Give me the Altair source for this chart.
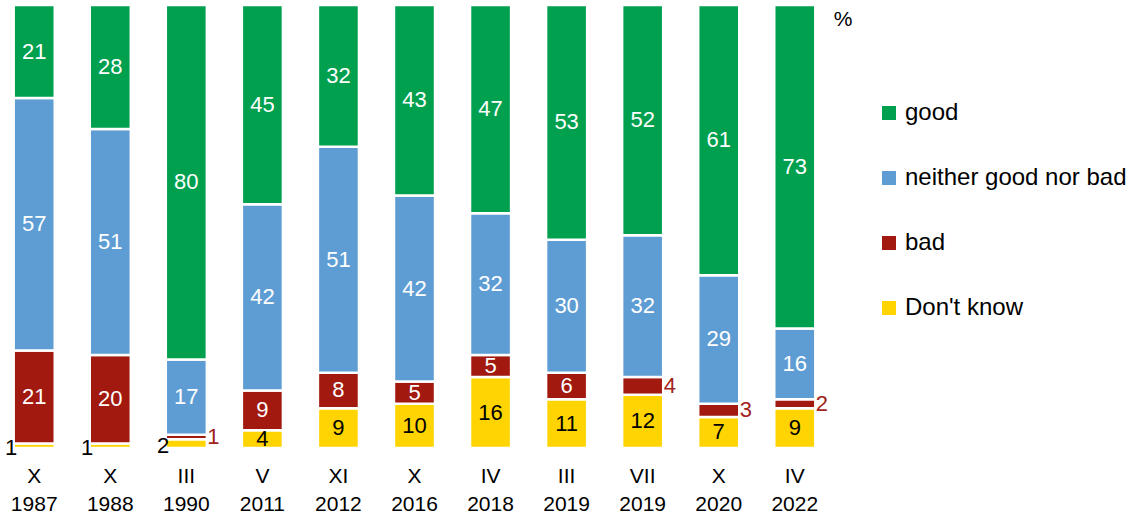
import altair as alt
import pandas as pd

months = ["X", "X", "III", "V", "XI", "X", "IV", "III", "VII", "X", "IV"]
years = ["1987", "1988", "1990", "2011", "2012", "2016", "2018", "2019", "2019", "2020", "2022"]
good = [21, 28, 80, 45, 32, 43, 47, 53, 52, 61, 73]
neither = [57, 51, 17, 42, 51, 42, 32, 30, 32, 29, 16]
bad = [21, 20, 1, 9, 8, 5, 5, 6, 4, 3, 2]
dont_know = [1, 1, 2, 4, 9, 10, 16, 11, 12, 7, 9]
series = ["good", "neither good nor bad", "bad", "Don't know"]
colors = ["#00A04F", "#5E9DD3", "#A2190F", "#FFD400"]

periods = [f"{m} {y}" for m, y in zip(months, years)]
rows = []
for i, p in enumerate(periods):
    for s, vals, order in [("Don't know", dont_know, 0), ("bad", bad, 1),
                           ("neither good nor bad", neither, 2), ("good", good, 3)]:
        v = vals[i]
        if s == "bad" and v <= 4:
            pos = "right"
        elif s == "Don't know" and v <= 2:
            pos = "left"
        else:
            pos = "in"
        rows.append({"period": p, "series": s, "value": v, "ord": order, "pos": pos})
df = pd.DataFrame(rows)

FONT = "Liberation Sans"

x_enc = alt.X("period:N", sort=periods, title=None,
              scale=alt.Scale(paddingInner=0.46, paddingOuter=0.18),
              axis=alt.Axis(labelExpr="split(datum.value, ' ')", labelAngle=0,
                            labelFontSize=21, labelLineHeight=28, labelPadding=17,
                            labelColor="#000000", labelFont=FONT,
                            domain=False, ticks=False, grid=False))
y_scale = alt.Scale(domain=[0, 100])

base = alt.Chart(df)

bars = base.mark_bar(stroke="white", strokeWidth=2.5).encode(
    x=x_enc,
    y=alt.Y("value:Q", stack="zero", scale=y_scale, axis=None),
    order=alt.Order("ord:Q", sort="ascending"),
    color=alt.Color("series:N", scale=alt.Scale(domain=series, range=colors),
                    legend=alt.Legend(orient="none", legendX=877, legendY=96, title=None,
                                      symbolType="square", symbolSize=196,
                                      symbolStrokeWidth=0, labelFontSize=24,
                                      labelFont=FONT, labelColor="#000000", labelLimit=400,
                                      rowPadding=41, labelOffset=4, padding=0)),
)

stacked = base.transform_stack(
    stack="value", as_=["y0", "y1"], groupby=["period"],
    sort=[alt.SortField("ord", order="ascending")]
).transform_calculate(mid="(datum.y0 + datum.y1) / 2")

inside = stacked.transform_filter("datum.pos == 'in'").mark_text(
    fontSize=22, font=FONT, baseline="middle", align="center"
).encode(
    x=alt.X("period:N", sort=periods),
    y=alt.Y("mid:Q", scale=y_scale),
    text="value:Q",
    color=alt.condition("datum.series == \"Don't know\"", alt.value("#000000"), alt.value("#FFFFFF")),
)

left = stacked.transform_filter("datum.pos == 'left'").mark_text(
    fontSize=22, font=FONT, baseline="middle", align="right", dx=-17, dy=2, color="#000000"
).encode(
    x=alt.X("period:N", sort=periods),
    y=alt.Y("mid:Q", scale=y_scale),
    text="value:Q",
)

right = stacked.transform_filter("datum.pos == 'right'").mark_text(
    fontSize=22, font=FONT, baseline="middle", align="left", dx=21, color="#A2231A"
).encode(
    x=alt.X("period:N", sort=periods),
    y=alt.Y("mid:Q", scale=y_scale),
    text="value:Q",
)

pct = alt.Chart(pd.DataFrame({"t": ["%"]})).mark_text(
    fontSize=21, font=FONT, align="center", baseline="middle", color="#000000"
).encode(x=alt.value(843), y=alt.value(15), text="t:N")

chart = alt.layer(bars, inside, left, right, pct).properties(
    width=829, height=443,
    autosize=alt.AutoSizeParams(type="none"),
    padding={"left": 0, "top": 5, "right": 305, "bottom": 67},
).configure_view(stroke=None)

chart.save("out.html", embed_options={"renderer": "svg", "actions": False})
